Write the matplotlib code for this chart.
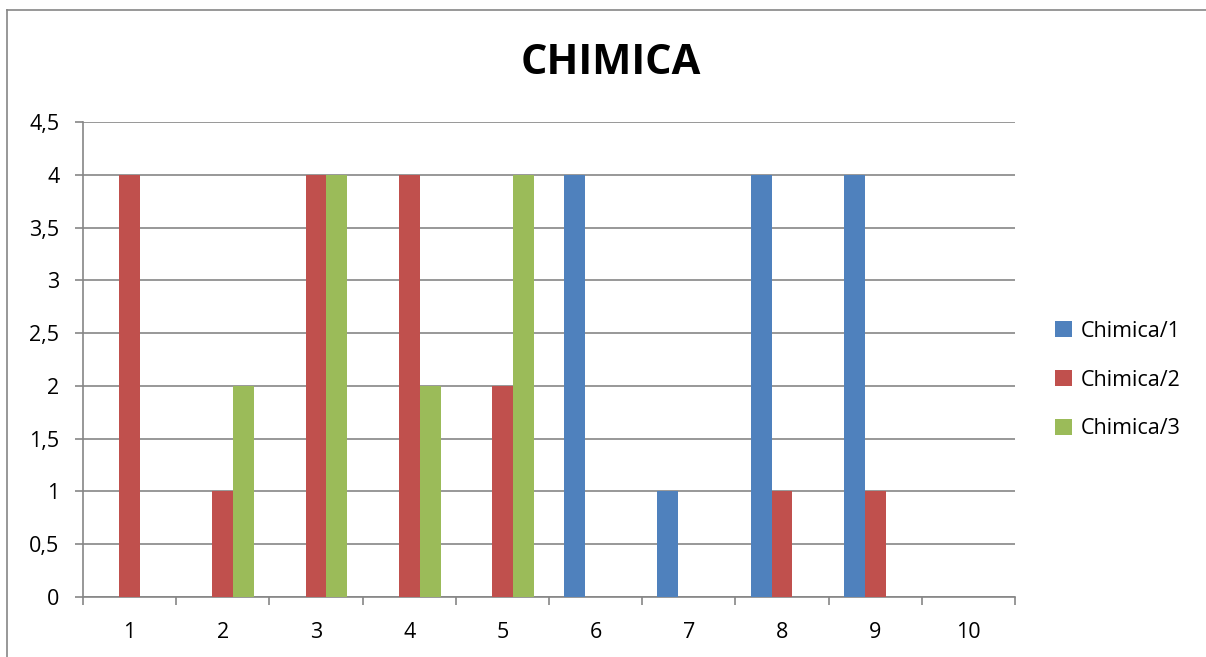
import matplotlib
matplotlib.use("Agg")
import matplotlib.pyplot as plt
from matplotlib.patches import Patch
from matplotlib.lines import Line2D
import numpy as np

categories = ["1", "2", "3", "4", "5", "6", "7", "8", "9", "10"]
series_names = ["Chimica/1", "Chimica/2", "Chimica/3"]
chimica1 = [0, 0, 0, 0, 0, 4, 1, 4, 4, 0]
chimica2 = [4, 1, 4, 4, 2, 0, 0, 1, 1, 0]
chimica3 = [0, 2, 4, 2, 4, 0, 0, 0, 0, 0]
colors = ["#4F81BD", "#C0504D", "#9BBB59"]
ytick_vals = [0, 0.5, 1, 1.5, 2, 2.5, 3, 3.5, 4, 4.5]
ytick_labels = ["0", "0,5", "1", "1,5", "2", "2,5", "3", "3,5", "4", "4,5"]

plt.rcParams['font.family'] = ['Open Sans', 'DejaVu Sans']

W, H = 1206, 657
fig = plt.figure(figsize=(W / 100, H / 100), dpi=100)
ax = fig.add_axes([83 / W, 60 / H, (1015 - 83) / W, (597 - 122) / H])

x = np.arange(len(categories))
bw = 0.225
for i, (vals, c) in enumerate(zip([chimica1, chimica2, chimica3], colors)):
    ax.bar(x + (i - 1) * bw, vals, width=bw, color=c, label=series_names[i], zorder=3)

ax.set_xlim(-0.5, len(categories) - 0.5)
ax.set_ylim(0, 4.5)
ax.set_yticks(ytick_vals)
ax.set_yticklabels(ytick_labels, fontsize=15.5)
ax.set_xticks(x)
ax.set_xticklabels(categories, fontsize=15.5)
ax.tick_params(axis='x', length=0, pad=18)
ax.set_xticks(np.arange(-0.5, len(categories)), minor=True)
ax.tick_params(axis='x', which='minor', length=6, width=1.2, color='#868686', direction='out')
ax.tick_params(axis='y', length=6, width=1.2, color='#868686', direction='out', pad=11)

ax.yaxis.grid(True, color='#868686', linewidth=1.2, zorder=0)
ax.set_axisbelow(True)
for s in ['top', 'right']:
    ax.spines[s].set_visible(False)
for s in ['left', 'bottom']:
    ax.spines[s].set_color('#868686')
    ax.spines[s].set_linewidth(1.2)

fig.text(611 / W, 1 - 64 / H, "CHIMICA", fontsize=30, fontweight='bold', ha='center', va='center')

handles = [Patch(facecolor=c, edgecolor='none') for c in colors]
fig.legend(handles, series_names, loc='center left', bbox_to_anchor=(1036 / W, 1 - 380 / H),
           frameon=False, fontsize=15.5, handlelength=0.75, handleheight=0.75,
           handletextpad=0.45, labelspacing=1.3)

# outer chart frame
fig.add_artist(Line2D([7 / W, 1], [1 - 10 / H, 1 - 10 / H], color='#868686', lw=1.2, transform=fig.transFigure))
fig.add_artist(Line2D([7 / W, 7 / W], [0, 1 - 10 / H], color='#868686', lw=1.2, transform=fig.transFigure))

fig.savefig("out.png", dpi=100)
